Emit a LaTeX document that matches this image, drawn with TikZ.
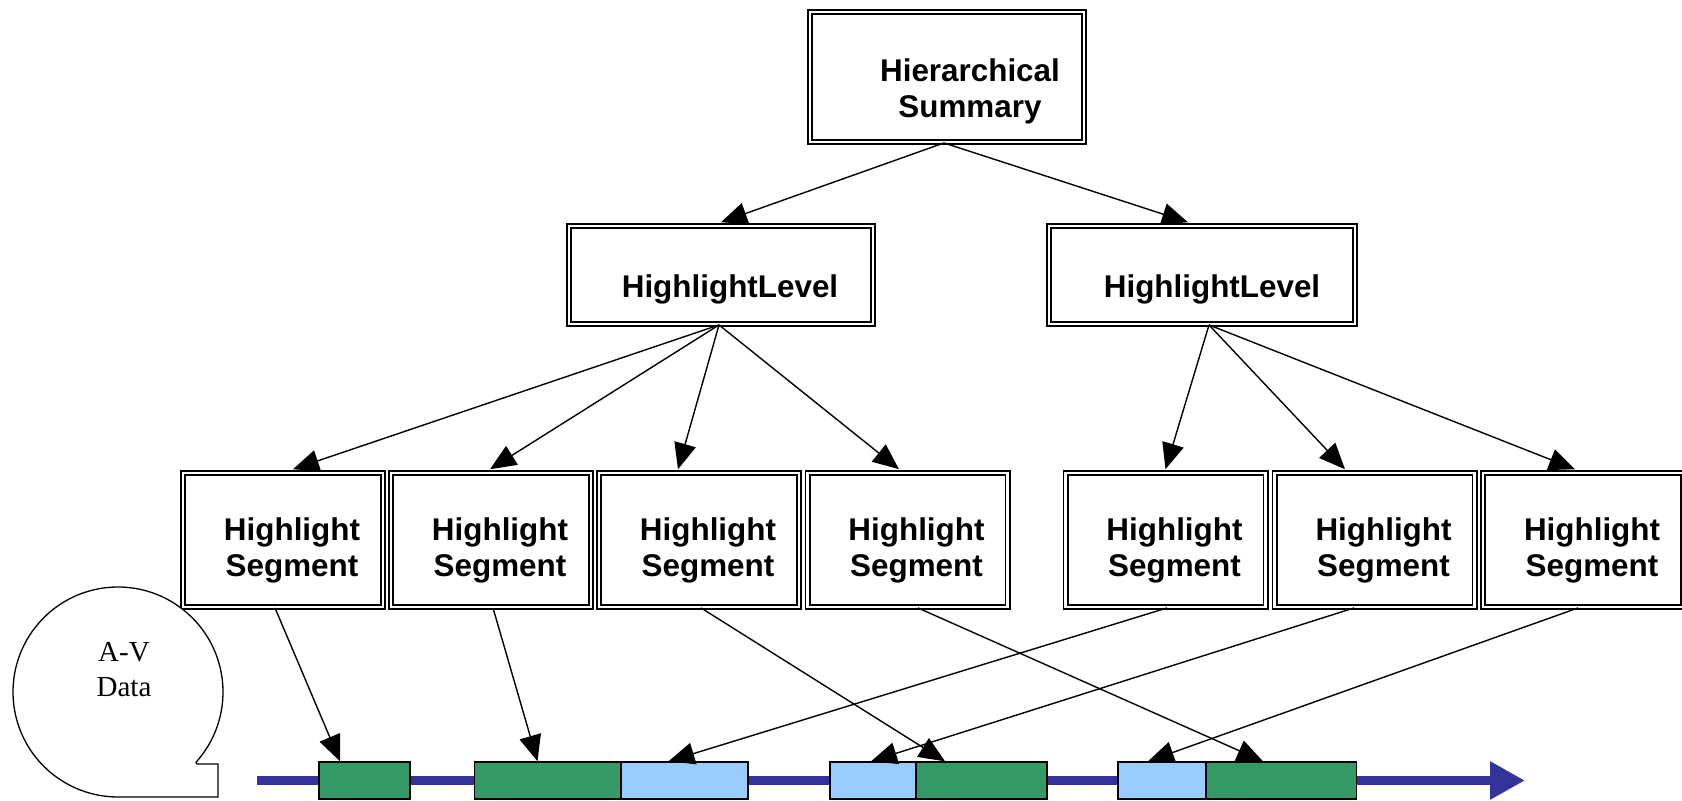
\documentclass[tikz,border=0pt]{standalone}
\usepackage{fontspec}
\setmainfont{Liberation Sans}
\newfontfamily\avfont{Liberation Serif}
\usetikzlibrary{arrows.meta}
\definecolor{segGreen}{HTML}{339966}
\definecolor{segBlue}{HTML}{99CCFF}
\definecolor{tlBlue}{HTML}{333399}
\tikzset{
  dbox/.style={draw=black, line width=0.95pt, double=white, double distance=1.1pt, inner sep=0pt, fill=white},
  segbox/.style={dbox, minimum width=100pt, minimum height=67pt},
  boxtext/.style={font=\fontsize{15.7}{18}\selectfont\bfseries, align=center, inner sep=0pt},
  segtext/.style={boxtext, xshift=4.5pt, yshift=-5pt},
  arr/.style={draw=black, line width=0.7pt, -{Triangle[length=13pt,width=11pt]}},
  bar/.style={draw=black, line width=0.7pt, inner sep=0pt, minimum height=18.5pt},
  tline/.style={draw=tlBlue, line width=4.5pt, -{Triangle[length=17.5pt,width=18pt]}},
}
\begin{document}
\begin{tikzpicture}[x=0.5pt,y=-0.5pt]
\useasboundingbox (0,0) rectangle (1682,801);

% top levels
\node[dbox, minimum width=137pt, minimum height=65pt,
  label={[boxtext,xshift=11.5pt,yshift=-7pt]center:Hierarchical\\Summary}] (hs) at (947,77) {};
\node[dbox, minimum width=152pt, minimum height=49pt,
  label={[boxtext,xshift=4.5pt,yshift=-7pt]center:HighlightLevel}] (hl1) at (721,275) {};
\node[dbox, minimum width=153pt, minimum height=49pt,
  label={[boxtext,xshift=5pt,yshift=-7pt]center:HighlightLevel}] (hl2) at (1202,275) {};

% segments
\node[segbox, label={[segtext]center:Highlight\\Segment}] (s1) at (283,540) {};
\node[segbox, label={[segtext]center:Highlight\\Segment}] (s2) at (491,540) {};
\node[segbox, label={[segtext]center:Highlight\\Segment}] (s3) at (699,540) {};
\node[segbox, label={[segtext]center:Highlight\\Segment}] (s4) at (907.5,540) {};
\node[segbox, label={[segtext]center:Highlight\\Segment}] (s5) at (1165.5,540) {};
\node[segbox, label={[segtext]center:Highlight\\Segment}] (s6) at (1374.5,540) {};
\node[segbox, label={[segtext]center:Highlight\\Segment}] (s7) at (1583,540) {};

% A-V data symbol
\draw[line width=0.65pt, fill=white] (118,692) ++(42:105)
  arc[start angle=42, end angle=-270, radius=105]
  -- (218,797) -- (218,764) -- (197,764) -- cycle;
\node[font=\avfont\fontsize{14.5}{17.5}\selectfont, align=center, inner sep=0pt] (av) at (124,670) {A-V\\Data};

% timeline
\coordinate (t0) at (257,780.5);
\coordinate (t1) at (1525,780.5);
\draw[tline] (t0) -- (t1);

\node[bar, fill=segGreen, minimum width=45.5pt] (g1) at (364.5,780.5) {};
\node[bar, fill=segGreen, minimum width=73pt] (g2) at (547.5,780.5) {};
\node[bar, fill=segBlue, minimum width=63.5pt] (b2) at (684.5,780.5) {};
\node[bar, fill=segBlue, minimum width=43pt] (b3) at (873,780.5) {};
\node[bar, fill=segGreen, minimum width=65.5pt] (g3) at (981.5,780.5) {};
\node[bar, fill=segBlue, minimum width=44pt] (b4) at (1162,780.5) {};
\node[bar, fill=segGreen, minimum width=75pt] (g4) at (1281.5,780.5) {};

% connectors: summary to levels
\draw[arr] ([xshift=-1.5pt]hs.south) -- ([yshift=1.4pt]hl1.north);
\draw[arr] ([xshift=-1.5pt]hs.south) -- ([xshift=-7pt,yshift=1.4pt]hl2.north);

% levels to segments
\draw[arr] ([xshift=-1pt]hl1.south) -- ([xshift=5pt,yshift=1.4pt]s1.north);
\draw[arr] ([xshift=-1pt]hl1.south) -- ([xshift=-0.5pt,yshift=1.4pt]s2.north);
\draw[arr] ([xshift=-1pt]hl1.south) -- ([xshift=-10.5pt,yshift=1.4pt]s3.north);
\draw[arr] ([xshift=-1pt]hl1.south) -- ([xshift=-4.25pt,yshift=1.4pt]s4.north);
\draw[arr] ([xshift=3.5pt]hl2.south) -- ([xshift=0pt,yshift=1.4pt]s5.north);
\draw[arr] ([xshift=3.5pt]hl2.south) -- ([xshift=-14.75pt,yshift=1.4pt]s6.north);
\draw[arr] ([xshift=3.5pt]hl2.south) -- ([xshift=-4pt,yshift=1.4pt]s7.north);

% segments to timeline
\draw[arr] ([xshift=-4pt]s1.south) -- ([xshift=-12.25pt]g1.north);
\draw[arr] ([xshift=1pt]s2.south) -- ([xshift=-5pt]g2.north);
\draw[arr] ([xshift=1pt]s3.south) -- ([xshift=-18.25pt]g3.north);
\draw[arr] ([xshift=5.25pt]s4.south) -- ([xshift=-9.25pt]g4.north);
\draw[arr] ([xshift=0.75pt]s5.south) -- ([xshift=-8pt]b2.north);
\draw[arr] ([xshift=-10.25pt]s6.south) -- ([xshift=-1pt]b3.north);
\draw[arr] ([xshift=-2.5pt]s7.south) -- ([xshift=-7pt]b4.north);
\end{tikzpicture}
\end{document}
